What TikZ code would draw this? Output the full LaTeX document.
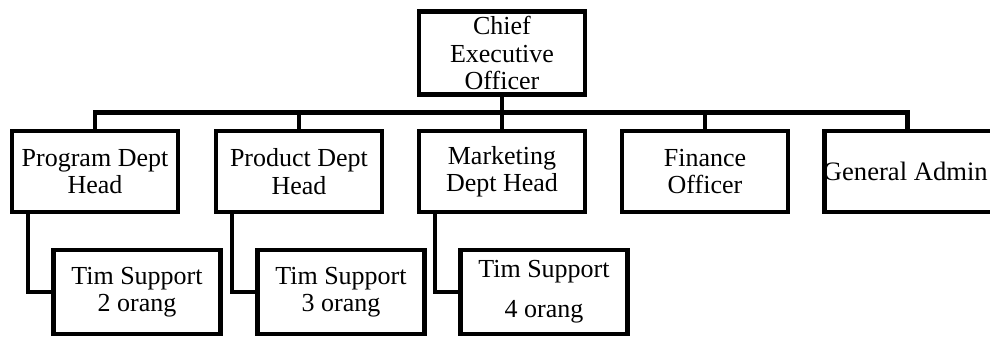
\documentclass[tikz,border=0pt]{standalone}
\usepackage{fontspec}
\setmainfont{Liberation Serif}
\begin{document}
\begin{tikzpicture}[x=1pt,y=-1pt,
  every node/.style={font=\fontsize{26}{27.5}\selectfont},
  box/.style={draw=black, line width=4.5pt, rectangle, minimum width=166pt, minimum height=81pt, inner sep=0pt, align=center},
  subbox/.style={box, minimum width=167pt, minimum height=84pt},
  conn/.style={draw=black, line width=4.5pt}
]
\useasboundingbox (0,0) rectangle (990,338);
\node[box, minimum height=83pt] (ceo) at (502,53) {Chief\\Executive\\Officer};
\node[box] (prog) at (95,171.5) {Program Dept\\Head};
\node[box] (prod) at (299,171.5) {Product Dept\\Head};
\node[box] (mkt) at (502,171.5) {Marketing\\Dept Head};
\node[box] (fin) at (705,171.5) {Finance\\Officer};
\node[box, minimum width=180pt] (ga) at (914.5,171.5) {};
\node[anchor=west, inner sep=0pt, xshift=0.5pt, font=\fontsize{26.6}{27.5}\selectfont] (gatext) at (ga.west) {General Admin};
\node[subbox] (sup1) at (137,292) {Tim Support\\2 orang};
\node[subbox] (sup2) at (341,292) {Tim Support\\3 orang};
\node[subbox] (sup3) at (544,292) {Tim Support\\[12.5pt]4 orang};
\coordinate (bus) at (0,112.5);
\draw[conn] (ceo.south) -- (mkt.north);
\draw[conn] (prog.north) -- (prog.north |- bus) -- ([xshift=-7pt]ga.north |- bus) -- ([xshift=-7pt]ga.north);
\draw[conn] (prod.north) -- (prod.north |- bus);
\draw[conn] (fin.north) -- (fin.north |- bus);
\draw[conn] ([xshift=-67pt]prog.south) |- (sup1.west);
\draw[conn] ([xshift=-67pt]prod.south) |- (sup2.west);
\draw[conn] ([xshift=-67pt]mkt.south) |- (sup3.west);
\end{tikzpicture}
\end{document}
